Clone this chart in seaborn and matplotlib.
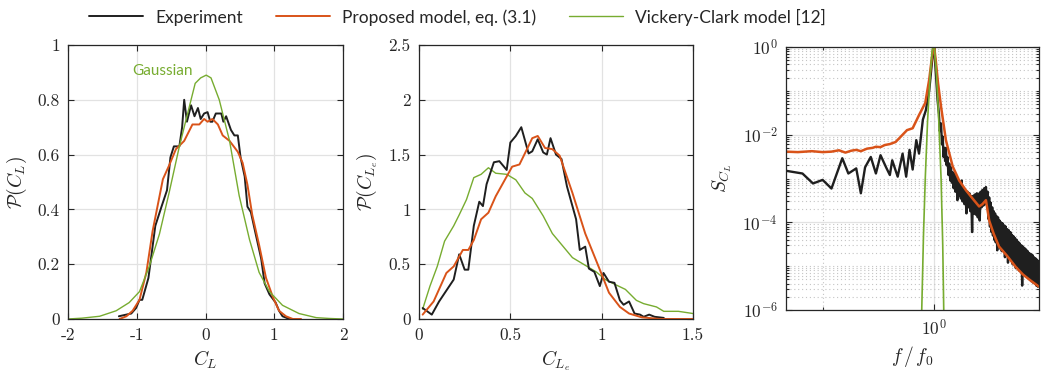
from __future__ import annotations

import matplotlib

matplotlib.use("Agg")
import matplotlib.pyplot as plt
import numpy as np
import pandas as pd
import seaborn as sns
from matplotlib.ticker import FixedLocator, LogLocator, NullFormatter


BLACK = "#1f1f1f"
ORANGE = "#D95319"
GREEN = "#77AC30"
GRID = "#e2e2e2"
SPINE = "#262626"
TICK_FONT = "cmr10"
SANS = "Lato"

SERIES_LABELS = ["Experiment", "Proposed model, eq. (3.1)", "Vickery-Clark model [12]"]

# --- panel 1: PDF of C_L ---
cl_exp_x = [-1.26, -1.08, -1.01, -0.96, -0.92, -0.83, -0.73, -0.64, -0.56, -0.51, -0.46, -0.38,
            -0.34, -0.31, -0.27, -0.21, -0.16, -0.11, -0.07, -0.02, 0.03, 0.07, 0.10, 0.15,
            0.23, 0.26, 0.30, 0.37, 0.42, 0.47, 0.51, 0.57, 0.61, 0.66, 0.73, 0.81, 0.86,
            0.93, 1.02, 1.07, 1.12, 1.22]
cl_exp_y = [0.01, 0.02, 0.04, 0.07, 0.07, 0.15, 0.34, 0.41, 0.47, 0.59, 0.63, 0.63,
            0.70, 0.80, 0.72, 0.78, 0.74, 0.77, 0.73, 0.75, 0.755, 0.72, 0.72, 0.75,
            0.75, 0.72, 0.74, 0.69, 0.67, 0.67, 0.59, 0.52, 0.41, 0.39, 0.31, 0.22, 0.13,
            0.09, 0.06, 0.03, 0.01, 0.0]

cl_mod_x = [-1.25, -1.15, -1.06, -0.96, -0.86, -0.77, -0.62, -0.53, -0.43, -0.31, -0.19, -0.09,
            -0.02, 0.03, 0.10, 0.18, 0.25, 0.35, 0.47, 0.54, 0.61, 0.68, 0.78, 0.88, 0.98,
            1.07, 1.17, 1.27, 1.39]
cl_mod_y = [0.0, 0.01, 0.03, 0.07, 0.17, 0.32, 0.51, 0.56, 0.62, 0.65, 0.71, 0.71,
            0.73, 0.72, 0.73, 0.71, 0.67, 0.65, 0.61, 0.57, 0.49, 0.38, 0.27, 0.15, 0.08,
            0.03, 0.01, 0.0, 0.0]

cl_vc_x = [-2.0, -1.8, -1.54, -1.30, -1.11, -0.96, -0.82, -0.67, -0.53, -0.38, -0.24, -0.15,
           -0.07, 0.01, 0.08, 0.20, 0.35, 0.49, 0.64, 0.78, 0.93, 1.12, 1.36, 1.61, 1.8, 2.0]
cl_vc_y = [0.0, 0.003, 0.01, 0.03, 0.06, 0.10, 0.19, 0.31, 0.46, 0.63, 0.77, 0.86,
           0.88, 0.89, 0.88, 0.80, 0.65, 0.45, 0.29, 0.17, 0.10, 0.05, 0.02, 0.005, 0.002, 0.0]

# --- panel 2: PDF of C_Le ---
cle_exp_x = [0.02, 0.07, 0.11, 0.17, 0.19, 0.22, 0.25, 0.27, 0.30, 0.33, 0.35, 0.37, 0.41,
             0.44, 0.48, 0.50, 0.53, 0.56, 0.60, 0.62, 0.65, 0.68, 0.70, 0.72, 0.75, 0.78,
             0.81, 0.83, 0.86, 0.88, 0.91, 0.93, 0.96, 0.99, 1.01, 1.04, 1.07, 1.10, 1.12,
             1.15, 1.18, 1.21, 1.23, 1.26, 1.29, 1.34]
cle_exp_y = [0.10, 0.04, 0.16, 0.31, 0.36, 0.59, 0.45, 0.45, 0.85, 1.07, 1.03, 1.23, 1.43,
             1.44, 1.36, 1.61, 1.67, 1.75, 1.51, 1.53, 1.64, 1.52, 1.50, 1.65, 1.50, 1.46,
             1.21, 1.09, 0.91, 0.63, 0.66, 0.46, 0.43, 0.30, 0.42, 0.34, 0.33, 0.17, 0.13,
             0.16, 0.05, 0.04, 0.02, 0.04, 0.02, 0.01]

cle_mod_x = [0.02, 0.08, 0.15, 0.19, 0.24, 0.27, 0.30, 0.34, 0.38, 0.42, 0.48, 0.51, 0.55,
             0.60, 0.62, 0.65, 0.69, 0.73, 0.77, 0.84, 0.91, 0.99, 1.04, 1.10, 1.15, 1.22,
             1.32, 1.50]
cle_mod_y = [0.04, 0.16, 0.42, 0.48, 0.63, 0.63, 0.72, 0.91, 0.97, 1.12, 1.30, 1.39, 1.41,
             1.58, 1.65, 1.67, 1.56, 1.55, 1.49, 1.15, 0.78, 0.45, 0.24, 0.11, 0.05, 0.015,
             0.0, 0.0]

cle_vc_x = [0.02, 0.06, 0.10, 0.14, 0.19, 0.22, 0.26, 0.30, 0.34, 0.38, 0.42, 0.48, 0.53,
            0.58, 0.62, 0.68, 0.73, 0.79, 0.84, 0.91, 0.97, 1.02, 1.08, 1.13, 1.19, 1.23,
            1.30, 1.34, 1.42, 1.50]
cle_vc_y = [0.09, 0.30, 0.48, 0.71, 0.85, 0.95, 1.09, 1.29, 1.32, 1.38, 1.33, 1.32, 1.27,
            1.15, 1.10, 0.94, 0.78, 0.66, 0.56, 0.49, 0.43, 0.36, 0.31, 0.27, 0.17, 0.14,
            0.11, 0.07, 0.07, 0.05]

# --- panel 3: spectrum of C_L ---
# below the shedding peak
f_exp_low = [0.047, 0.066, 0.082, 0.10, 0.12, 0.15, 0.17, 0.20, 0.22, 0.24, 0.27, 0.30, 0.33,
             0.37, 0.40, 0.42, 0.47, 0.52, 0.56, 0.60, 0.64, 0.69, 0.73, 0.79, 0.84, 0.90,
             0.97, 1.00]
s_exp_low = [1.5e-3, 1.3e-3, 7.7e-4, 9.3e-4, 5.9e-4, 2.9e-3, 1.3e-3, 1.7e-3, 4.6e-4, 1.8e-3,
             3.1e-3, 1.3e-3, 3.4e-3, 1.8e-3, 1.2e-3, 2.6e-3, 1.1e-3, 3.7e-3, 1.1e-3, 4.5e-3,
             1.6e-3, 7.5e-3, 3.7e-3, 2.2e-2, 3.6e-2, 0.10, 0.72, 0.93]
# from the peak up to the third harmonic
f_exp_mid = [1.07, 1.10, 1.12, 1.15, 1.17, 1.19, 1.21, 1.23, 1.25, 1.27, 1.29, 1.31, 1.34,
             1.36, 1.39, 1.41, 1.44, 1.46, 1.49, 1.52, 1.55, 1.58, 1.61, 1.64, 1.67, 1.70,
             1.73, 1.76, 1.79, 1.83, 1.86, 1.90, 1.94, 1.98, 2.02, 2.06, 2.10, 2.14, 2.18,
             2.22, 2.26, 2.30, 2.35, 2.40, 2.45, 2.50, 2.55, 2.60, 2.65, 2.70, 2.75, 2.80,
             2.85, 2.90, 2.95, 3.00, 3.05, 3.10, 3.15, 3.20, 3.25, 3.30]
s_exp_mid = [6.1e-2, 3.0e-2, 1.2e-2, 1.8e-2, 6.0e-3, 9.0e-3, 3.1e-3, 5.0e-3, 2.5e-3, 5.0e-3,
             2.0e-3, 3.1e-3, 1.2e-3, 2.2e-3, 9.0e-4, 1.8e-3, 8.0e-4, 1.4e-3, 6.0e-4, 1.3e-3,
             5.0e-4, 1.1e-3, 3.2e-4, 9.0e-4, 4.0e-4, 8.0e-4, 3.5e-4, 9.0e-4, 3.0e-4, 6.0e-4,
             2.6e-4, 5.0e-4, 1.6e-4, 5.0e-4, 2.2e-4, 4.6e-4, 1.8e-4, 4.0e-4, 6.0e-5, 4.0e-4,
             1.6e-4, 4.3e-4, 1.5e-4, 4.6e-4, 1.3e-4, 4.5e-4, 1.1e-4, 5.0e-4, 2.2e-4, 5.5e-4,
             2.4e-4, 6.0e-4, 2.6e-4, 6.4e-4, 2.5e-4, 5.0e-4, 1.2e-4, 3.7e-4, 8.0e-5, 2.8e-4,
             6.0e-5, 2.2e-4]
# high-frequency tail
f_exp_high = [3.35, 3.40, 3.45, 3.50, 3.55, 3.60, 3.66, 3.72, 3.78, 3.84, 3.90, 3.96, 4.02,
              4.08, 4.15, 4.22, 4.29, 4.36, 4.43, 4.50, 4.57, 4.64, 4.72, 4.80, 4.88, 4.96,
              5.04, 5.12, 5.20, 5.28, 5.37, 5.46, 5.55, 5.64, 5.73, 5.82, 5.92, 6.02, 6.12,
              6.22, 6.32, 6.42, 6.53, 6.64, 6.75, 6.86, 6.97, 7.08, 7.20, 7.32, 7.44, 7.56,
              7.68, 7.81, 7.94, 8.07, 8.20, 8.33, 8.46, 8.58, 8.66]
s_exp_high = [5.0e-5, 1.8e-4, 4.0e-5, 1.6e-4, 3.5e-5, 1.4e-4, 2.3e-5, 1.3e-4, 3.0e-5, 1.1e-4,
              2.5e-5, 1.0e-4, 2.2e-5, 9.5e-5, 2.5e-5, 8.5e-5, 1.6e-5, 8.0e-5, 2.0e-5, 7.0e-5,
              1.2e-5, 6.6e-5, 1.6e-5, 6.0e-5, 1.4e-5, 5.2e-5, 1.1e-5, 4.8e-5, 1.2e-5, 4.4e-5,
              9.0e-6, 4.0e-5, 1.0e-5, 3.6e-5, 8.0e-6, 3.3e-5, 8.0e-6, 3.0e-5, 3.6e-6, 2.8e-5,
              7.0e-6, 2.6e-5, 6.5e-6, 2.4e-5, 6.0e-6, 2.2e-5, 5.5e-6, 2.0e-5, 5.0e-6, 1.9e-5,
              4.5e-6, 1.8e-5, 4.2e-6, 1.6e-5, 4.0e-6, 1.5e-5, 3.6e-6, 1.4e-5, 3.4e-6, 1.3e-5,
              4.0e-6]

f_mod = [0.047, 0.06, 0.08, 0.10, 0.12, 0.14, 0.16, 0.18, 0.20, 0.22, 0.25, 0.28, 0.30,
         0.33, 0.36, 0.40, 0.45, 0.49, 0.57, 0.64, 0.73, 0.83, 0.90, 0.97, 1.0, 1.03, 1.08,
         1.15, 1.27, 1.46, 1.67, 1.92, 2.2, 2.52, 2.7, 2.9, 3.1, 3.4, 3.8, 4.5, 5.36, 6.2,
         7.2, 8.66]
s_mod = [4.1e-3, 4.0e-3, 4.2e-3, 4.0e-3, 4.1e-3, 4.4e-3, 3.9e-3, 4.3e-3, 4.5e-3, 4.2e-3,
         4.8e-3, 5.0e-3, 5.3e-3, 5.2e-3, 5.8e-3, 6.1e-3, 6.8e-3, 8.5e-3, 1.27e-2, 1.4e-2,
         2.8e-2, 5.3e-2, 0.18, 0.85, 0.95, 0.5, 0.15, 4.3e-2, 7.5e-3, 1.9e-3, 9.0e-4, 5.4e-4,
         3.5e-4, 2.3e-4, 2.6e-4, 3.2e-4, 1.1e-4, 5.5e-5, 2.8e-5, 1.7e-5, 9.6e-6, 6.5e-6,
         4.8e-6, 3.4e-6]

f_vc = [0.74, 0.80, 0.83, 0.87, 0.92, 0.965, 1.0, 1.04, 1.09, 1.15, 1.19, 1.25]
s_vc = [1e-8, 5e-5, 1e-3, 2e-2, 0.25, 1.0, 1.0, 0.3, 3e-2, 1e-3, 3e-5, 1e-8]

P1_XTICKS = [-2, -1, 0, 1, 2]
P1_XLABELS = ["-2", "-1", "0", "1", "2"]
P1_YTICKS = [0, 0.2, 0.4, 0.6, 0.8, 1.0]
P1_YLABELS = ["0", "0.2", "0.4", "0.6", "0.8", "1"]
P2_XTICKS = [0, 0.5, 1.0, 1.5]
P2_XLABELS = ["0", "0.5", "1", "1.5"]
P2_YTICKS = [0, 0.5, 1.0, 1.5, 2.0, 2.5]
P2_YLABELS = ["0", "0.5", "1", "1.5", "2", "2.5"]
P3_YTICKS = [1e-6, 1e-4, 1e-2, 1.0]
P3_YLABELS = [r"$10^{-6}$", r"$10^{-4}$", r"$10^{-2}$", r"$10^{0}$"]


def _lines(ax, sets):
    for (x, y), color, lw in sets:
        df = pd.DataFrame({"x": x, "y": y})
        sns.lineplot(data=df, x="x", y="y", ax=ax, color=color, lw=lw,
                     estimator=None, sort=False, legend=False)


def _frame(ax):
    for sp in ax.spines.values():
        sp.set_visible(True)
        sp.set_color(SPINE)
        sp.set_linewidth(0.9)
    ax.tick_params(which="both", direction="in", top=True, right=True,
                   color=SPINE, width=0.8, labelsize=12.5, pad=6)
    ax.tick_params(which="major", length=4)
    ax.tick_params(which="minor", length=2)
    ax.set_axisbelow(True)


def _linear_panel(ax, xlim, ylim, xt, xl, yt, yl, xlabel, ylabel):
    ax.set_xlim(*xlim)
    ax.set_ylim(*ylim)
    ax.set_xticks(xt, xl, fontfamily=TICK_FONT)
    ax.set_yticks(yt, yl, fontfamily=TICK_FONT)
    ax.grid(True, color=GRID, lw=0.9)
    ax.set_xlabel(xlabel, fontsize=14, labelpad=4)
    ax.set_ylabel(ylabel, fontsize=14, labelpad=6)
    _frame(ax)


def main() -> int:
    sns.set_theme(style="ticks")
    plt.rcParams["mathtext.fontset"] = "cm"
    plt.rcParams["axes.unicode_minus"] = False
    plt.rcParams["font.family"] = [SANS, "DejaVu Sans"]

    W, H = 1041, 374
    fig = plt.figure(figsize=(W / 100, H / 100), dpi=100)
    ax1 = fig.add_axes([68 / W, (H - 319) / H, 275 / W, 274 / H])
    ax2 = fig.add_axes([419 / W, (H - 319) / H, 274 / W, 274 / H])
    ax3 = fig.add_axes([786 / W, (H - 310) / H, 253 / W, 263 / H])

    # panel 1
    _lines(ax1, [((cl_exp_x, cl_exp_y), BLACK, 1.4),
                 ((cl_mod_x, cl_mod_y), ORANGE, 1.4),
                 ((cl_vc_x, cl_vc_y), GREEN, 1.0)])
    _linear_panel(ax1, (-2, 2), (0, 1), P1_XTICKS, P1_XLABELS, P1_YTICKS, P1_YLABELS,
                  r"$C_L$", r"$\mathcal{P}(C_L)$")
    ax1.text(-0.62, 0.905, "Gaussian", color=GREEN, fontsize=11, ha="center", va="center")

    # panel 2
    _lines(ax2, [((cle_vc_x, cle_vc_y), GREEN, 1.0),
                 ((cle_exp_x, cle_exp_y), BLACK, 1.4),
                 ((cle_mod_x, cle_mod_y), ORANGE, 1.4)])
    _linear_panel(ax2, (0, 1.5), (0, 2.5), P2_XTICKS, P2_XLABELS, P2_YTICKS, P2_YLABELS,
                  r"$C_{L_e}$", r"$\mathcal{P}(C_{L_e})$")

    # panel 3
    ax3.set_xscale("log")
    ax3.set_yscale("log")
    f_exp = f_exp_low + f_exp_mid + f_exp_high
    s_exp = s_exp_low + s_exp_mid + s_exp_high
    _lines(ax3, [((f_exp, s_exp), BLACK, 1.7),
                 ((f_mod, s_mod), ORANGE, 1.8),
                 ((f_vc, s_vc), GREEN, 1.2)])
    ax3.set_xlim(0.047, 8.66)
    ax3.set_ylim(1e-6, 1.0)
    ax3.xaxis.set_major_locator(FixedLocator([1.0]))
    ax3.xaxis.set_minor_locator(FixedLocator([0.1]))
    ax3.xaxis.set_minor_formatter(NullFormatter())
    ax3.set_xticks([1.0], [r"$10^{0}$"])
    ax3.set_yticks(P3_YTICKS, P3_YLABELS)
    ax3.yaxis.set_minor_locator(LogLocator(base=10, subs=np.arange(1, 10), numticks=50))
    ax3.yaxis.set_minor_formatter(NullFormatter())
    ax3.grid(True, which="major", color=GRID, lw=0.9)
    ax3.grid(True, which="minor", color="#c4c4c4", lw=0.8, ls=(0, (1, 2.5)))
    ax3.set_xlabel(r"$f\,/\,f_0$", fontsize=14, labelpad=4)
    ax3.set_ylabel(r"$S_{C_L}$", fontsize=14, labelpad=6)
    _frame(ax3)

    handles = ax1.lines[:3]
    fig.legend(handles, SERIES_LABELS, loc="center", bbox_to_anchor=(457.5 / W, 1 - 17 / H),
               ncol=3, frameon=False, fontsize=12.5, handlelength=3.1, handletextpad=0.7,
               columnspacing=1.9, borderpad=0, borderaxespad=0)

    fig.savefig("out.png", dpi=100)
    plt.close(fig)
    return 0


if __name__ == "__main__":
    raise SystemExit(main())
